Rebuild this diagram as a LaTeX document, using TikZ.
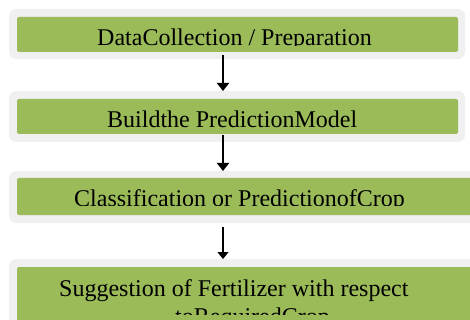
\documentclass[tikz,border=0pt]{standalone}
\usepackage{fontspec}
\setmainfont{Liberation Serif}
\usetikzlibrary{arrows.meta}
\definecolor{olivegreen}{RGB}{155,187,89}
\definecolor{framegray}{RGB}{240,240,240}
\tikzset{
  frame/.style={fill=framegray, draw=none, rounded corners=7pt},
  stepbox/.style={fill=olivegreen, draw=none, rounded corners=2pt},
  label/.style={font=\fontsize{24}{27.6}\selectfont, inner sep=0pt, anchor=base west, text=black},
  flow/.style={line width=2pt, -{Triangle[width=12pt,length=8pt]}},
  thinflow/.style={line width=1.2pt, -{Triangle[width=11pt,length=7pt]}}
}
\begin{document}
\begin{tikzpicture}[x=1pt,y=-1pt]
\useasboundingbox (0,0) rectangle (470,320);
\clip (0,0) rectangle (470,320);

% outer frames
\path[frame] (9,9) rectangle (465,59);
\path[frame] (9,91) rectangle (465,142);
\path[frame] (9,171) rectangle (485,223);
\path[frame] (9,259) rectangle (485,340);

% green step boxes
\path[stepbox] (17,17) rectangle (458,52);
\path[stepbox] (17,99) rectangle (458,134);
\path[stepbox] (17,178) rectangle (480,215);
\path[stepbox] (17,267) rectangle (480,335);

% named anchors for the connectors
\coordinate (s1) at (223,55);
\coordinate (t1) at (223,91);
\coordinate (s2) at (223,135);
\coordinate (t2) at (223,171);
\coordinate (s3) at (223,227);
\coordinate (t3) at (223,259);

% step texts, cut off at the lower edge as printed
\begin{scope}
  \clip (17,17) rectangle (458,45.5);
  \node[label] (l1) at (97,46) {DataCollection / Preparation};
\end{scope}
\begin{scope}
  \clip (17,99) rectangle (458,127.5);
  \node[label] (l2) at (107,128) {Buildthe PredictionModel};
\end{scope}
\begin{scope}
  \clip (17,178) rectangle (470,205.5);
  \node[label] (l3) at (74,206) {Classification or PredictionofCrop};
\end{scope}
\begin{scope}
  \clip (17,267) rectangle (470,314);
  \node[label] (l4) at (59,296) {Suggestion of Fertilizer with respect};
  \node[label] (l5) at (175,324) {toRequiredCrop};
\end{scope}

% connectors
\draw[flow] (s1) -- (t1);
\draw[flow] (s2) -- (t2);
\draw[thinflow] (s3) -- (t3);
\end{tikzpicture}
\end{document}
